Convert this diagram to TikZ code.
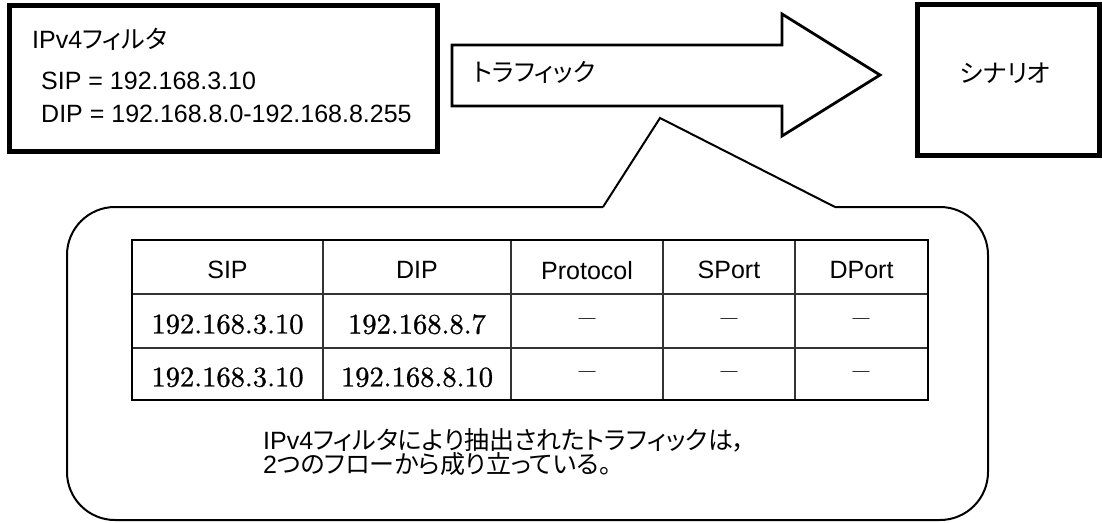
\documentclass[tikz,border=0pt]{standalone}
\usepackage{fontspec}
\setsansfont{Liberation Sans}
\newfontfamily\jpfont[RawFeature=+palt]{Noto Sans CJK JP}
\newfontfamily\numfont[Extension=.otf, FakeBold=1.0]{lmroman10-regular}
\newcommand{\jp}[1]{{\jpfont #1}}
\usetikzlibrary{positioning}

\begin{document}
\begin{tikzpicture}[
    x=1pt, y=1pt,
    framebox/.style={draw, line width=5pt, inner sep=0pt},
    txt/.style={font=\fontsize{25}{30}\selectfont\sffamily, inner sep=0pt},
    head/.style={txt, text depth=0pt},
    num/.style={font=\fontsize{28.5}{32}\selectfont\numfont, inner sep=0pt, text depth=0pt},
    nil/.style={font=\fontsize{20}{24}\selectfont\jpfont, inner sep=0pt, text height=0.76em, text depth=0pt},
    bigarrow/.style={draw, line width=2.8pt, line join=miter},
    bubble/.style={draw, line width=2pt},
    thinrule/.style={line width=1.3pt, black!80},
    outerrule/.style={line width=2.6pt},
]
\useasboundingbox (0,0) rectangle (1102,-522);

% Filter box
\node[framebox, minimum width=428pt, minimum height=145.5pt] (filter) at (223.5,-78.25) {};
\node[txt, anchor=base west] (filt1) at (32,-48) {IPv4\jp{フィルタ}};
\node[txt, anchor=base west] (filt2) at (41,-89) {SIP = 192.168.3.10};
\node[txt, anchor=base west] (filt3) at (41,-122.5) {DIP = 192.168.8.0-192.168.8.255};

% Traffic arrow
\draw[bigarrow] (452,-45) -- (782,-45) -- (782,-14) -- (880,-75)
    -- (782,-136) -- (782,-106) -- (452,-106) -- cycle;
\node[txt, anchor=west] (traffic) at (473,-72.5) {\jp{トラフィック}};

% Scenario box
\node[framebox, minimum width=182pt, minimum height=150.5pt] (scenario) at (1008,-79.75) {};
\node[txt] (scenlabel) at ([xshift=-3pt, yshift=6.5pt]scenario.center) {\jp{シナリオ}};

% Callout
\coordinate (tip) at (660,-118);
\coordinate (baseL) at (603,-207);
\coordinate (baseR) at (835,-207);
\draw[bubble, rounded corners=48pt] (baseL) -- (67,-207) -- (67,-520)
    -- (988,-520) -- (988,-207) -- (baseR);
\draw[bubble] (baseL) -- (tip) -- (baseR);

% Flow table
\foreach \cx in {323,511,663,795}
    \draw[thinrule] (\cx,-240) -- (\cx,-400);
\foreach \ry in {294,348}
    \draw[thinrule] (132,-\ry) -- (928,-\ry);
\draw[outerrule] (132,-240) rectangle (928,-400);

\foreach \name/\cx [count=\i] in {SIP/227.5, DIP/417, Protocol/587, SPort/729, DPort/861.5}
    \node[head] (head\i) at (\cx,-270) {\name};

\node[num] (sipA) at (227.5,-324) {192.168.3.10};
\node[num] (dipA) at (417,-324) {192.168.8.7};
\node[num] (sipB) at (227.5,-377) {192.168.3.10};
\node[num] (dipB) at (417,-377) {192.168.8.10};
\foreach \cx [count=\i] in {587,729,861.5} {
    \node[nil] (nilA\i) at (\cx,-323) {―};
    \node[nil] (nilB\i) at (\cx,-376) {―};
}

% Note
\node[txt, anchor=west, align=left, font=\fontsize{25}{23}\selectfont\sffamily] (note) at (263,-452)
    {IPv4\jp{フィルタにより抽出されたトラフィックは，}\\2\jp{つのフローから成り立っている。}};

\end{tikzpicture}
\end{document}
